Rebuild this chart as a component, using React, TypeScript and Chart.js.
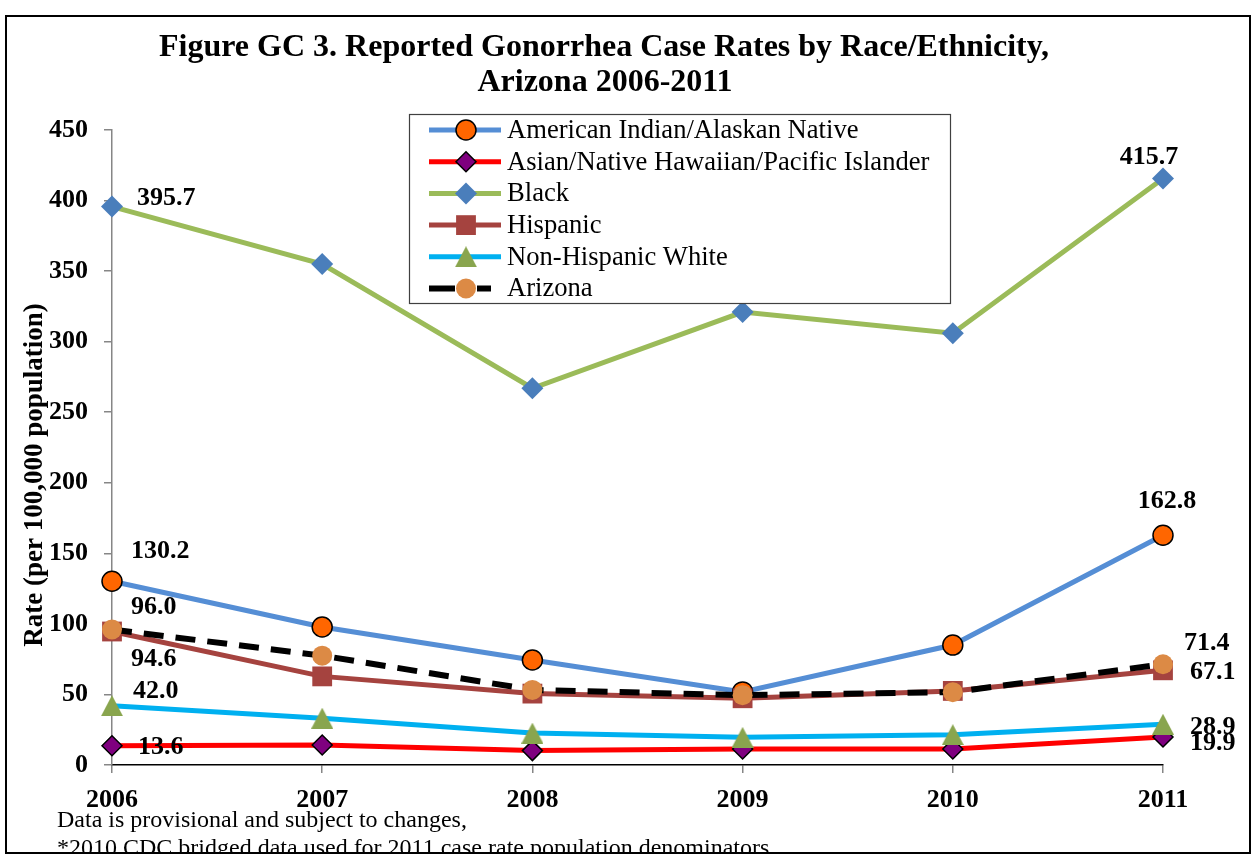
import React, { useEffect, useRef } from "react";
import { Chart, registerables } from "chart.js";
import { drawPoint } from "chart.js/helpers";

Chart.register(...registerables);

// ---------- data ----------
const years = ["2006", "2007", "2008", "2009", "2010", "2011"];
const seriesNames = [
  "American Indian/Alaskan Native",
  "Asian/Native Hawaiian/Pacific Islander",
  "Black",
  "Hispanic",
  "Non-Hispanic White",
  "Arizona",
];
const americanIndian = [130.2, 97.8, 74.4, 51.8, 85.0, 162.8];
const asianPacific = [13.6, 14.2, 10.2, 11.4, 11.3, 19.9];
const black = [395.7, 355.0, 267.0, 321.0, 306.0, 415.7];
const hispanic = [94.6, 62.8, 50.6, 47.3, 52.5, 67.1];
const nonHispanicWhite = [42.0, 33.2, 22.6, 19.6, 21.5, 28.9];
const arizona = [96.0, 77.5, 53.2, 49.5, 51.6, 71.4];
const yTicks = [0, 50, 100, 150, 200, 250, 300, 350, 400, 450];

const titleLines = [
  "Figure GC 3. Reported Gonorrhea Case Rates by Race/Ethnicity,",
  "Arizona 2006-2011",
];
const yAxisTitle = "Rate (per 100,000 population)";
const footnotes = [
  "Data is provisional and subject to changes,",
  "*2010 CDC bridged data used for 2011 case rate population denominators.",
];

const seriesValues = [americanIndian, asianPacific, black, hispanic, nonHispanicWhite, arizona];

// ---------- styles ----------
const FONT = "'Liberation Serif', 'Times New Roman', Times, serif";

function makeTriangle(color: string, w: number, h: number): HTMLCanvasElement {
  const c = document.createElement("canvas");
  c.width = w;
  c.height = h;
  const ctx = c.getContext("2d")!;
  ctx.fillStyle = color;
  ctx.beginPath();
  ctx.moveTo(w / 2, 0);
  ctx.lineTo(w, h);
  ctx.lineTo(0, h);
  ctx.closePath();
  ctx.fill();
  return c;
}

type Style = {
  line: string;
  width: number;
  dash: number[];
  point: any;
  radius: number;
  fill: string;
  border: string;
  borderWidth: number;
};

function buildStyles(): Style[] {
  return [
    { line: "#558ED5", width: 5, dash: [], point: "circle", radius: 10, fill: "#FF6600", border: "#000000", borderWidth: 1.5 },
    { line: "#FF0000", width: 5, dash: [], point: "rectRot", radius: 10, fill: "#7F007F", border: "#000000", borderWidth: 1.5 },
    { line: "#9BBB59", width: 5, dash: [], point: "rectRot", radius: 11, fill: "#4A7EBB", border: "#4A7EBB", borderWidth: 0 },
    { line: "#A5433F", width: 5, dash: [], point: "rect", radius: 14, fill: "#A5433F", border: "#A5433F", borderWidth: 0 },
    { line: "#00B0F0", width: 5, dash: [], point: makeTriangle("#89A54E", 22, 21), radius: 11, fill: "#89A54E", border: "#89A54E", borderWidth: 0 },
    { line: "#000000", width: 6, dash: [20, 12], point: "circle", radius: 10, fill: "#DC8A45", border: "#DC8A45", borderWidth: 0 },
  ];
}

// label offsets for [first point, last point] of each series
const labelOffsets = [
  [{ dx: 19, dy: -30, align: "left" }, { dx: 4, dy: -34, align: "center" }],
  [{ dx: 26, dy: 1, align: "left" }, { dx: 27, dy: 6, align: "left" }],
  [{ dx: 25, dy: -8, align: "left" }, { dx: -14, dy: -21, align: "center" }],
  [{ dx: 19, dy: 28, align: "left" }, { dx: 27, dy: 2, align: "left" }],
  [{ dx: 21, dy: -14, align: "left" }, { dx: 27, dy: 3, align: "left" }],
  [{ dx: 19, dy: -22, align: "left" }, { dx: 21, dy: -21, align: "left" }],
];

export default function App() {
  const canvasRef = useRef<HTMLCanvasElement | null>(null);

  useEffect(() => {
    const canvas = canvasRef.current;
    if (!canvas) return;
    const styles = buildStyles();

    const decor = {
      id: "decor",
      afterDatasetsDraw(chart: any) {
        const ctx = chart.ctx;
        ctx.save();
        ctx.fillStyle = "#000";
        ctx.font = `bold 26px ${FONT}`;
        ctx.textBaseline = "middle";
        seriesValues.forEach((vals, i) => {
          const meta = chart.getDatasetMeta(i);
          const idxs = [0, vals.length - 1];
          idxs.forEach((idx, k) => {
            const el = meta.data[idx];
            const off = labelOffsets[i][k];
            ctx.textAlign = off.align;
            ctx.fillText(vals[idx].toFixed(1), el.x + off.dx, el.y + off.dy);
          });
        });
        ctx.restore();
      },
      afterDraw(chart: any) {
        const ctx = chart.ctx;
        ctx.save();
        // title
        ctx.fillStyle = "#000";
        ctx.font = `bold 32px ${FONT}`;
        ctx.textAlign = "center";
        ctx.textBaseline = "middle";
        ctx.fillText(titleLines[0], 604, 48);
        ctx.fillText(titleLines[1], 605, 83);

        // y axis title
        ctx.save();
        ctx.translate(35, 475);
        ctx.rotate(-Math.PI / 2);
        ctx.font = `bold 27px ${FONT}`;
        ctx.fillText(yAxisTitle, 0, 0);
        ctx.restore();

        // footnotes
        ctx.font = `24px ${FONT}`;
        ctx.textAlign = "left";
        ctx.textBaseline = "alphabetic";
        ctx.fillText(footnotes[0], 57, 827);
        ctx.fillText(footnotes[1], 57, 855);

        // legend
        const lx = 409, ly = 114, lw = 541, lh = 189;
        ctx.fillStyle = "#fff";
        ctx.fillRect(lx, ly, lw, lh);
        ctx.strokeStyle = "#404040";
        ctx.lineWidth = 1.2;
        ctx.strokeRect(lx + 0.5, ly + 0.5, lw, lh);
        ctx.font = `26.6px ${FONT}`;
        ctx.textBaseline = "middle";
        seriesNames.forEach((name, i) => {
          const s = styles[i];
          const y = 130 + i * 31.7;
          ctx.save();
          ctx.strokeStyle = s.line;
          ctx.lineWidth = s.width;
          ctx.setLineDash(s.dash.length ? [26, 22] : []);
          ctx.beginPath();
          ctx.moveTo(429, y);
          ctx.lineTo(s.dash.length ? 491 : 501, y);
          ctx.stroke();
          ctx.restore();
          ctx.save();
          ctx.fillStyle = s.fill;
          ctx.strokeStyle = s.border;
          ctx.lineWidth = s.borderWidth;
          drawPoint(ctx, { pointStyle: s.point, radius: s.radius, rotation: 0, borderWidth: s.borderWidth }, 466, y);
          ctx.restore();
          ctx.fillStyle = "#000";
          ctx.fillText(name, 507, y + 1);
        });

        // outer frame
        ctx.strokeStyle = "#000";
        ctx.lineWidth = 2;
        ctx.strokeRect(6, 16, 1244, 837);
        ctx.restore();
      },
    };

    const chart = new Chart(canvas, {
      type: "line",
      data: {
        labels: years,
        datasets: seriesValues.map((vals, i) => {
          const s = styles[i];
          return {
            label: seriesNames[i],
            data: vals,
            order: seriesValues.length - i,
            borderColor: s.line,
            borderWidth: s.width,
            borderDash: s.dash,
            backgroundColor: s.fill,
            pointStyle: s.point,
            pointRadius: s.radius,
            pointBackgroundColor: s.fill,
            pointBorderColor: s.border,
            pointBorderWidth: s.borderWidth,
            tension: 0,
            fill: false,
          };
        }),
      },
      options: {
        animation: false,
        responsive: false,
        events: [],
        layout: { padding: { top: 130, right: 93, left: 0, bottom: 0 } },
        plugins: {
          legend: { display: false },
          title: { display: false },
          tooltip: { enabled: false },
        },
        scales: {
          x: {
            type: "category",
            offset: false,
            grid: { drawOnChartArea: false, drawTicks: true, tickLength: 8, color: "#868686", lineWidth: 1.5 },
            border: { display: true, color: "#000000", width: 1.5 },
            ticks: {
              autoSkip: false,
              maxRotation: 0,
              color: "#000",
              padding: 12,
              font: { family: FONT, size: 26, weight: "bold" },
            },
            afterFit(scale: any) {
              scale.height = 89;
            },
          },
          y: {
            min: 0,
            max: 450,
            grid: { drawOnChartArea: false, drawTicks: true, tickLength: 8, color: "#868686", lineWidth: 1.5 },
            border: { display: true, color: "#868686", width: 1.5 },
            ticks: {
              color: "#000",
              padding: 16,
              font: { family: FONT, size: 26, weight: "bold" },
            },
            afterBuildTicks(scale: any) {
              scale.ticks = yTicks.map((v) => ({ value: v }));
            },
            afterFit(scale: any) {
              scale.width = 112;
            },
          },
        },
      },
      plugins: [decor],
    });

    return () => chart.destroy();
  }, []);

  return (
    <div style={{ position: "absolute", left: 0, top: 0, width: 1256, height: 854, background: "#fff" }}>
      <canvas ref={canvasRef} width={1256} height={854} style={{ display: "block" }} />
    </div>
  );
}
